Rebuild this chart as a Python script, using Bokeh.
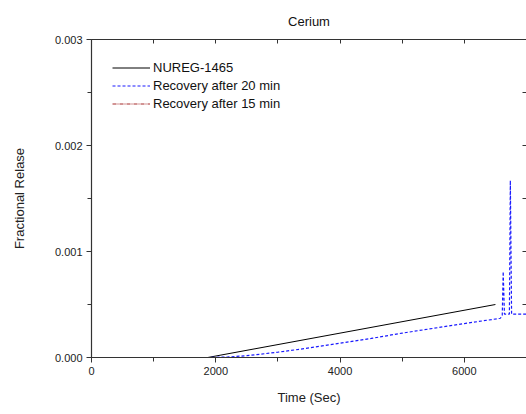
from bokeh.plotting import figure
from bokeh.models import (LinearAxis, NumeralTickFormatter, Legend, LegendItem, Range1d,
                          SingleIntervalTicker, CustomJSTickFormatter)
from bokeh.embed import file_html
from bokeh.resources import INLINE

# Data
time_nureg = [0, 1870, 6500]
rel_nureg = [0.0, 0.0, 0.0005]

time_20 = [0, 1900, 2200, 2500, 3000, 3500, 4000, 4500, 5000, 5500, 6000, 6580,
           6610, 6625, 6645, 6725, 6740, 6760, 7000]
rel_20 = [0.0, 0.0, 0.000005, 0.000017, 0.00005, 0.00009, 0.000135, 0.00018, 0.00023,
          0.000275, 0.00032, 0.00037, 0.00040, 0.00081, 0.00041, 0.00041, 0.00167,
          0.00041, 0.00041]

time_15 = [0, 7000]
rel_15 = [0.0, 0.0]

FONT = "Liberation Sans"

p = figure(width=526, height=414, output_backend="svg", toolbar_location=None,
           x_range=Range1d(0, 7000), y_range=Range1d(0, 0.003),
           min_border_left=91, min_border_right=0, min_border_top=39, min_border_bottom=57,
           x_axis_label="Time (Sec)", y_axis_label="Fractional Relase",
           title="Cerium")
p.grid.visible = False
p.outline_line_color = None
p.background_fill_color = "white"
p.border_fill_color = "white"

p.title.align = "center"
p.title.text_font = FONT
p.title.text_font_size = "13px"
p.title.text_font_style = "normal"
p.title.text_color = "#111111"
p.title.standoff = 22

xa = p.xaxis[0]
xa.ticker = SingleIntervalTicker(interval=2000, num_minor_ticks=2)
xa.major_tick_in = 0
xa.major_tick_out = 5
xa.minor_tick_in = 0
xa.minor_tick_out = 4
ya = p.yaxis[0]
ya.ticker = SingleIntervalTicker(interval=0.001, num_minor_ticks=2)
ya.formatter = NumeralTickFormatter(format="0.000")
ya.major_tick_in = 0
ya.major_tick_out = 5
ya.minor_tick_in = 0
ya.minor_tick_out = 4

for ax in (xa, ya):
    ax.axis_line_color = "#333333"
    ax.axis_line_width = 1.2
    ax.major_tick_line_color = "#333333"
    ax.minor_tick_line_color = "#333333"
    ax.major_label_text_font = FONT
    ax.major_label_text_font_size = "11px"
    ax.major_label_text_color = "#222222"
    ax.axis_label_text_font = FONT
    ax.axis_label_text_font_size = "13px"
    ax.axis_label_text_font_style = "normal"
    ax.axis_label_text_color = "#222222"
ya.axis_label_standoff = 25
xa.axis_label_standoff = 12
xa.major_label_standoff = 4
ya.major_label_standoff = 4

top = LinearAxis(ticker=SingleIntervalTicker(interval=1000, num_minor_ticks=0),
                 formatter=CustomJSTickFormatter(code="return ''"),
                 major_tick_in=4, major_tick_out=0, minor_tick_in=0, minor_tick_out=0,
                 major_label_standoff=0,
                 axis_line_color="#333333", major_tick_line_color="#333333")
p.add_layout(top, "above")
right = LinearAxis(ticker=SingleIntervalTicker(interval=0.0005, num_minor_ticks=0),
                   formatter=CustomJSTickFormatter(code="return ''"),
                   major_tick_in=4, major_tick_out=0, minor_tick_in=0, minor_tick_out=0,
                   major_label_standoff=0,
                   axis_line_color=None, major_tick_line_color="#333333")
p.add_layout(right, "right")

r15 = p.line(time_15, rel_15, line_color="#a52a2a", line_width=1.2, line_dash="4 1 1 1")
r1 = p.line(time_nureg, rel_nureg, line_color="black", line_width=1)
r20 = p.line(time_20, rel_20, line_color="#1a1aff", line_width=1.2, line_dash="3 2")

legend = Legend(items=[LegendItem(label="NUREG-1465", renderers=[r1]),
                       LegendItem(label="Recovery after 20 min", renderers=[r20]),
                       LegendItem(label="Recovery after 15 min", renderers=[r15])],
                location="top_left")
legend.background_fill_alpha = 0
legend.border_line_color = None
legend.label_text_font = FONT
legend.label_text_font_size = "13px"
legend.label_text_color = "#111111"
legend.glyph_width = 38
legend.glyph_height = 15
legend.label_height = 15
legend.spacing = 3
legend.padding = 6
legend.margin = 21
legend.label_standoff = 3
p.add_layout(legend, "center")

open("out.html", "w").write(file_html(p, INLINE))
